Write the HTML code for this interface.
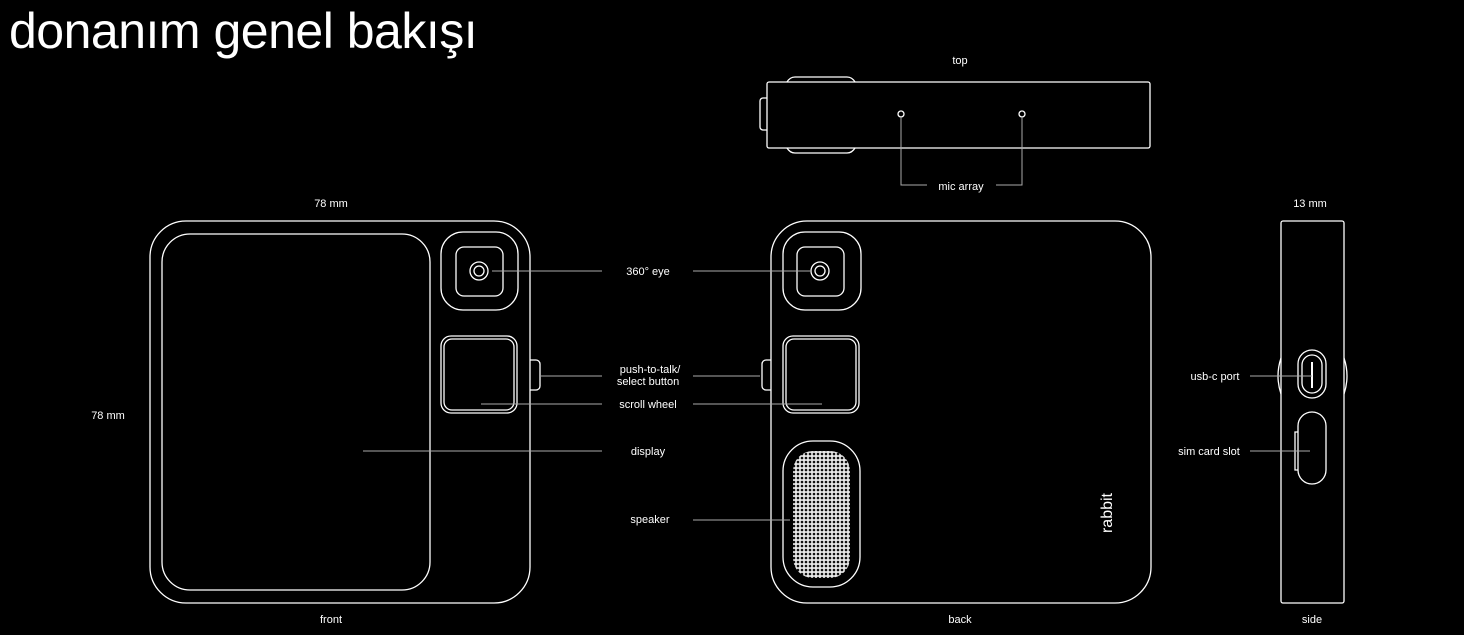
<!DOCTYPE html>
<html><head><meta charset="utf-8"><style>
html,body{margin:0;padding:0;background:#000;}
svg{display:block}
text{font-family:"Liberation Sans",sans-serif;fill:#fff;font-size:11px}
</style></head><body>
<svg width="1464" height="635" viewBox="0 0 1464 635" xmlns="http://www.w3.org/2000/svg">
<defs>
<pattern id="mesh" width="4" height="4" patternUnits="userSpaceOnUse">
<rect width="4" height="4" fill="#e8e8e8"/>
<circle cx="2" cy="2" r="1.3" fill="#111"/>
</pattern>
</defs>
<text x="9" y="48" style="font-size:50px;letter-spacing:-0.5px" fill="#fff">donanım genel bakışı</text>
<g fill="none" stroke="#fff" stroke-width="1.3">
<!-- front -->
<rect x="150" y="221" width="380" height="382" rx="36"/>
<rect x="162" y="234" width="268" height="356" rx="28"/>
<rect x="441" y="232" width="77" height="78" rx="22"/>
<rect x="456" y="247" width="47" height="49" rx="8"/>
<circle cx="479" cy="271" r="9"/><circle cx="479" cy="271" r="5"/>
<rect x="441" y="336" width="76" height="77" rx="10"/>
<rect x="444" y="339" width="70" height="71" rx="8"/>
<path d="M530 360 h6 a4 4 0 0 1 4 4 v22 a4 4 0 0 1 -4 4 h-6"/>
<!-- back -->
<rect x="771" y="221" width="380" height="382" rx="36"/>
<rect x="783" y="232" width="78" height="78" rx="22"/>
<rect x="797" y="247" width="47" height="49" rx="8"/>
<circle cx="820" cy="271" r="9"/><circle cx="820" cy="271" r="5"/>
<rect x="783" y="336" width="76" height="77" rx="10"/>
<rect x="786" y="339" width="70" height="71" rx="8"/>
<path d="M771 360 h-5 a4 4 0 0 0 -4 4 v22 a4 4 0 0 0 4 4 h5"/>
<rect x="783" y="441" width="77" height="146" rx="30"/>
<!-- top -->
<rect x="767" y="82" width="383" height="66" rx="2"/>
<path d="M787 82 q3 -5 8 -5 h52 q5 0 8 5"/>
<path d="M787 148 q3 5 8 5 h52 q5 0 8 -5"/>
<path d="M767 98 h-4 a3 3 0 0 0 -3 3 v26 a3 3 0 0 0 3 3 h4"/>
<circle cx="901" cy="114" r="3"/><circle cx="1022" cy="114" r="3"/>
<!-- side -->
<rect x="1281" y="221" width="63" height="382" rx="2"/>
<path d="M1281 358 q-6 18 0 36"/><path d="M1344 358 q6 18 0 36"/>
<rect x="1298" y="350" width="28" height="48" rx="14"/>
<rect x="1302" y="355" width="20" height="38" rx="10"/>
<rect x="1298" y="412" width="28" height="72" rx="14"/>
<path d="M1298 432 h-3 v38 h3"/>
</g>
<rect x="793" y="451" width="57" height="127" rx="20" fill="url(#mesh)"/>
<line x1="1312" y1="362" x2="1312" y2="388" stroke="#fff" stroke-width="2"/>
<g stroke="#aaa" stroke-width="1">
<line x1="492" y1="271" x2="602" y2="271"/><line x1="693" y1="271" x2="812" y2="271"/>
<line x1="541" y1="376" x2="602" y2="376"/><line x1="693" y1="376" x2="760" y2="376"/>
<line x1="481" y1="404" x2="602" y2="404"/><line x1="693" y1="404" x2="822" y2="404"/>
<line x1="363" y1="451" x2="602" y2="451"/>
<line x1="693" y1="520" x2="790" y2="520"/>
<line x1="1250" y1="376" x2="1312" y2="376"/>
<line x1="1250" y1="451" x2="1310" y2="451"/>
<path d="M901 117 V185 H927 M1022 117 V185 H996" fill="none"/>
</g>
<g text-anchor="middle">
<text x="648" y="275">360° eye</text>
<text x="650" y="373">push-to-talk/</text>
<text x="648" y="385">select button</text>
<text x="648" y="408">scroll wheel</text>
<text x="648" y="455">display</text>
<text x="650" y="523">speaker</text>
<text x="961" y="190">mic array</text>
<text x="960" y="64">top</text>
<text x="331" y="207">78 mm</text>
<text x="108" y="419">78 mm</text>
<text x="1310" y="207">13 mm</text>
<text x="331" y="623">front</text>
<text x="960" y="623">back</text>
<text x="1312" y="623">side</text>
<text x="1215" y="380">usb-c port</text>
<text x="1209" y="455">sim card slot</text>
</g>
<text x="1117" y="518" text-anchor="middle" transform="rotate(-90 1112 518)" style="font-size:16px">rabbit</text>
</svg>
</body></html>
